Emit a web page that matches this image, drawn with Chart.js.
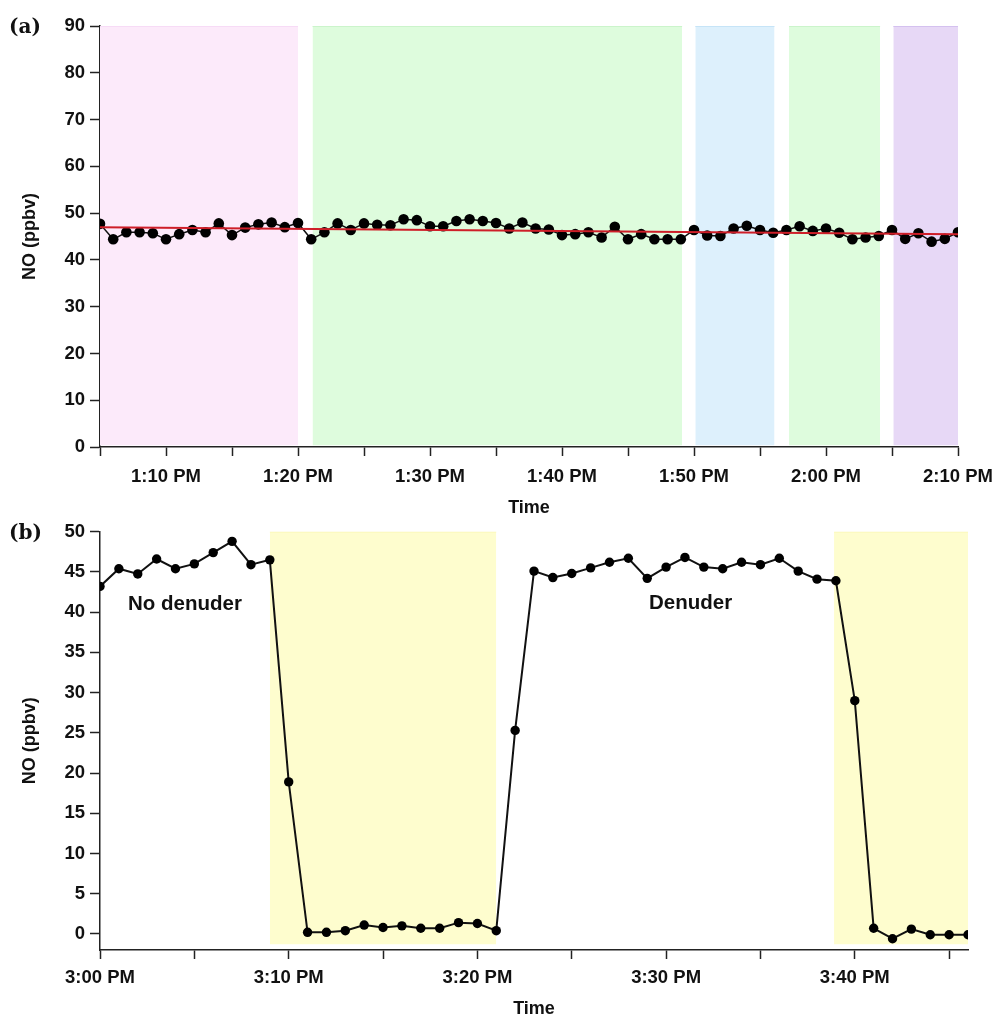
<!DOCTYPE html>
<html>
<head>
<meta charset="utf-8">
<script src="https://cdn.jsdelivr.net/npm/chart.js@4/dist/chart.umd.min.js"></script>
<style>
    body { margin: 0; background: #fff; }
    #wrap { position: relative; width: 997px; height: 1016px; overflow: hidden; }
    #wrap canvas { position: absolute; left: 0; }
    #chart_a { top: 0; }
    #chart_b { top: 500px; }
</style>
</head>
<body>
<div id="wrap">
    <canvas id="chart_a" width="997" height="520"></canvas>
    <canvas id="chart_b" width="997" height="530"></canvas>
</div>
<script type="application/javascript">
    // panel (a): minutes after 12:00, one reading per minute from 1:05 PM
    var minutesA = [];
    for (var m = 65; m <= 130; m++) minutesA.push(m);
    var noA = [47.7, 44.4, 45.9, 45.9, 45.7, 44.4, 45.5, 46.4, 45.9, 47.8, 45.3, 46.9, 47.6, 48.0, 47.0, 47.9,
        44.4, 45.9, 47.8, 46.4, 47.8, 47.5, 47.4, 48.7, 48.5, 47.2, 47.2, 48.3, 48.7, 48.3, 47.9, 46.7, 48.0,
        46.7, 46.5, 45.3, 45.5, 45.9, 44.8, 47.1, 44.4, 45.5, 44.4, 44.4, 44.4,
        46.4, 45.2, 45.1, 46.7, 47.3, 46.4, 45.8, 46.4, 47.2, 46.2, 46.7, 45.8, 44.4, 44.8, 45.1,
        46.4, 44.5, 45.7, 43.9, 44.5, 45.9];
    var trendA = [{x: 65, y: 47.0}, {x: 130, y: 45.5}];
    // shaded periods [start, end] in minutes, with colour
    var periodsA = [[65, 80], [81.1, 109.1], [110.1, 116.1], [117.2, 124.1], [125.1, 130.1]];
    var periodFillA = ['rgb(252,234,250)', 'rgb(222,252,221)', 'rgb(221,240,252)', 'rgb(222,252,221)', 'rgb(231,216,246)'];
    var periodEdgeA = ['rgb(246,214,244)', 'rgb(196,242,196)', 'rgb(190,224,246)', 'rgb(196,242,196)', 'rgb(206,186,236)'];
    var ticksA = {70: '1:10 PM', 80: '1:20 PM', 90: '1:30 PM', 100: '1:40 PM', 110: '1:50 PM', 120: '2:00 PM', 130: '2:10 PM'};

    // panel (b): minutes after 3:00 PM
    var minutesB = [];
    for (var k = 0; k <= 46; k++) minutesB.push(k);
    var noB = [43.2, 45.4, 44.75, 46.6, 45.4, 46.0, 47.4, 48.8, 45.9, 46.5,
        18.9, 0.2, 0.2, 0.4, 1.1, 0.8, 1.0, 0.7, 0.7, 1.4, 1.3, 0.4,
        25.3, 45.1, 44.3, 44.8, 45.5, 46.2, 46.7, 44.2, 45.6, 46.8, 45.6, 45.4, 46.2, 45.9, 46.7, 45.1, 44.1, 43.9,
        29.0, 0.7, -0.6, 0.6, -0.1, -0.1, -0.1];
    var periodsB = [[9, 21], [38.9, 46]];
    var ticksB = {0: '3:00 PM', 10: '3:10 PM', 20: '3:20 PM', 30: '3:30 PM', 40: '3:40 PM'};
    var notesB = [{x: 4.5, y: 41.0, text: 'No denuder'}, {x: 31.3, y: 41.1, text: 'Denuder'}];

    var FONT = "'Liberation Sans', Arial, sans-serif";

    function xy(xs, ys) {
        return xs.map(function (x, i) { return {x: x, y: ys[i]}; });
    }

    function shade(range, top, bottom, fill, edge) {
        return {
            type: 'line',
            data: [{x: range[0], y: top}, {x: range[1], y: top}],
            fill: {value: bottom},
            backgroundColor: fill,
            borderColor: edge,
            borderWidth: 1.5,
            pointRadius: 0,
            order: 10
        };
    }

    function axes(xMin, xMax, yMin, yMax, yStep, tickMap, xHeight, labelPad, titlePad) {
        var line = {display: true, color: '#222', width: 1.5};
        return {
            x: {
                type: 'linear', min: xMin, max: xMax,
                border: line,
                grid: {drawOnChartArea: false, drawTicks: true, tickLength: 9, color: '#222', tickWidth: 1.5},
                ticks: {
                    stepSize: 5, includeBounds: false, autoSkip: false, maxRotation: 0,
                    padding: labelPad, color: '#111', font: {family: FONT, size: 18.5, weight: 'bold'},
                    callback: function (v) { return tickMap[v] || ''; }
                },
                title: {display: true, text: 'Time', color: '#111', font: {family: FONT, size: 18, weight: 'bold'}, padding: {top: 0, bottom: titlePad}},
                afterFit: function (s) {
                    s.height = xHeight;
                    s.paddingLeft = 0;
                    s.paddingRight = 0;
                }
            },
            y: {
                min: yMin, max: yMax,
                border: line,
                grid: {drawOnChartArea: false, drawTicks: true, tickLength: 10, color: '#222', tickWidth: 1.5},
                ticks: {stepSize: yStep, includeBounds: false, padding: 5, color: '#111', font: {family: FONT, size: 18.5, weight: 'bold'}},
                title: {display: true, text: 'NO (ppbv)', color: '#111', font: {family: FONT, size: 18, weight: 'bold'}, padding: {top: 19, bottom: 0}},
                afterFit: function (s) { s.width = 100; }
            }
        };
    }

    // panel letter and in-plot notes
    var labelsPlugin = {
        id: 'labels',
        afterDraw: function (chart, args, opts) {
            var ctx = chart.ctx;
            ctx.save();
            ctx.fillStyle = '#111';
            ctx.textBaseline = 'middle';
            ctx.textAlign = 'left';
            ctx.font = "bold 20px 'DejaVu Serif', 'Liberation Serif', serif";
            ctx.fillText(opts.letter, 9, chart.chartArea.top + 2);
            ctx.textAlign = 'center';
            ctx.font = 'bold 20.5px ' + FONT;
            (opts.notes || []).forEach(function (n) {
                ctx.fillText(n.text, chart.scales.x.getPixelForValue(n.x), chart.scales.y.getPixelForValue(n.y));
            });
            ctx.restore();
        }
    };

    var setsA = periodsA.map(function (p, i) { return shade(p, 90, 0.4, periodFillA[i], periodEdgeA[i]); });
    setsA.push({
        type: 'line', data: xy(minutesA, noA),
        borderColor: '#111', borderWidth: 1.5,
        pointRadius: 5.3, pointBackgroundColor: '#000', pointBorderWidth: 0,
        order: 2
    });
    setsA.push({
        type: 'line', data: trendA,
        borderColor: 'rgb(206,30,40)', borderWidth: 2, pointRadius: 0,
        order: 1
    });

    new Chart(document.getElementById('chart_a').getContext('2d'), {
        type: 'line',
        data: {datasets: setsA},
        options: {
            responsive: false, animation: false, events: [],
            layout: {padding: {left: 0, right: 39, top: 26, bottom: 0}},
            plugins: {legend: {display: false}, tooltip: {enabled: false}, labels: {letter: '(a)'}},
            scales: axes(65, 130, 0, 90, 10, ticksA, 73, 10, 1.2)
        },
        plugins: [labelsPlugin]
    });

    var setsB = periodsB.map(function (p) { return shade(p, 50, -1.3, 'rgb(254,253,206)', 'rgb(250,248,180)'); });
    setsB.push({
        type: 'line', data: xy(minutesB, noB),
        borderColor: '#111', borderWidth: 2,
        pointRadius: 4.7, pointBackgroundColor: '#000', pointBorderWidth: 0,
        order: 1
    });

    new Chart(document.getElementById('chart_b').getContext('2d'), {
        type: 'line',
        data: {datasets: setsB},
        options: {
            responsive: false, animation: false, events: [],
            layout: {padding: {left: 0, right: 29, top: 31.7, bottom: 0}},
            plugins: {legend: {display: false}, tooltip: {enabled: false}, labels: {letter: '(b)', notes: notesB}},
            scales: axes(0, 46, -2, 50, 5, ticksB, 80, 8, 10.2)
        },
        plugins: [labelsPlugin]
    });
</script>
</body>
</html>
